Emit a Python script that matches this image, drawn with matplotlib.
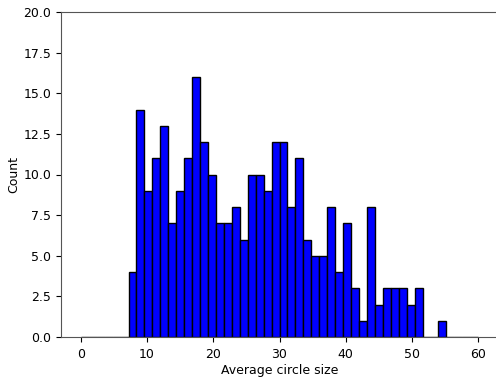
import numpy as np
import matplotlib
matplotlib.use("Agg")
import matplotlib.pyplot as plt

# Histogram bins: 50 equal bins spanning 0..60
bin_edges = np.linspace(0, 60, 51)
counts = [0, 0, 0, 0, 0, 0,
          4, 14, 9, 11, 13, 7, 9, 11, 16, 12,
          10, 7, 7, 8, 6, 10, 10, 9, 12, 12,
          8, 11, 6, 5, 5, 8, 4, 7, 3, 1,
          8, 2, 3, 3, 3, 2, 3, 0, 0, 1,
          0, 0, 0, 0]

centers = (bin_edges[:-1] + bin_edges[1:]) / 2

plt.rcParams['font.size'] = 9

fig = plt.figure(figsize=(4.96, 3.81), dpi=100)
ax = fig.add_axes([61 / 496, 1 - 337 / 381, (498 - 61) / 496, (337 - 12) / 381])
ax.hist(centers, bins=bin_edges, weights=counts, color='blue', edgecolor='black')
ax.set_xlim(-3, 63)
ax.set_ylim(0, 20)
ax.tick_params(axis='x', pad=4.5)
ax.set_xlabel('Average circle size', labelpad=2)
ax.set_ylabel('Count', labelpad=2.5)
for spine in ax.spines.values():
    spine.set_color('#555555')
fig.savefig('out.png', dpi=100)
